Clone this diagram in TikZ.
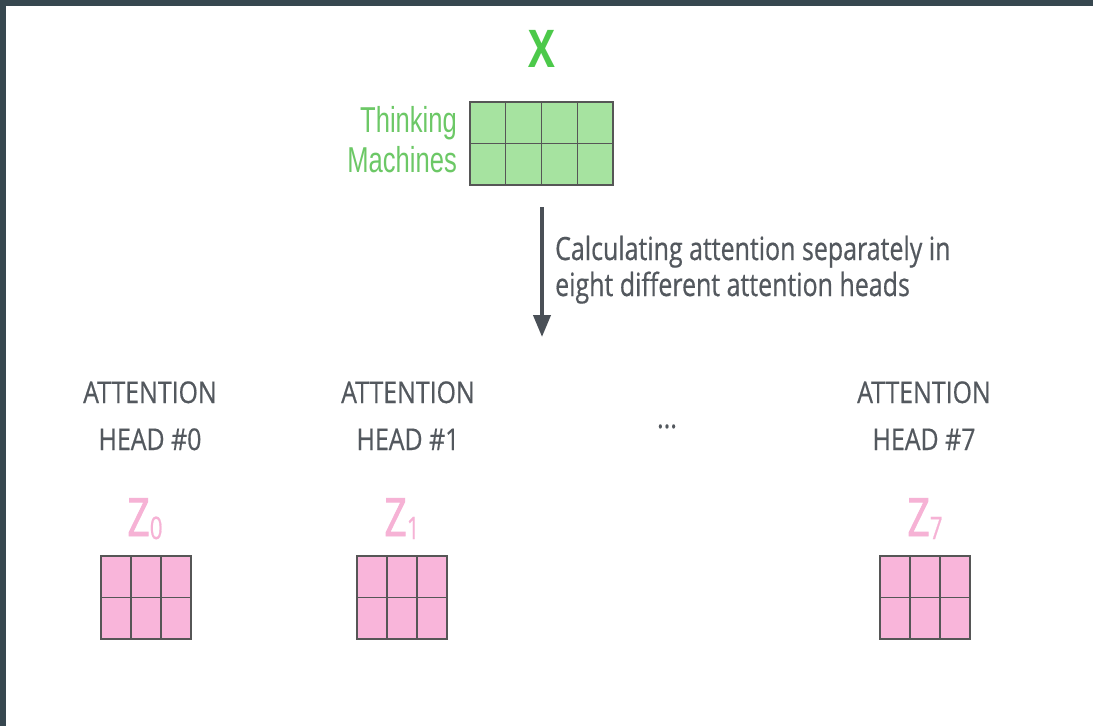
\documentclass[tikz,border=0pt]{standalone}
\usepackage{fontspec}
\usetikzlibrary{arrows.meta,calc}

% Narrow sans faces for the labels
\newfontfamily\headfont[FakeStretch=0.83,FakeBold=0.5]{Open Sans}
\newfontfamily\notefont[FakeStretch=0.78,FakeBold=0.5]{Open Sans}
\newfontfamily\boldletter[FakeStretch=0.77]{Open Sans}
\newfontfamily\zletter[FakeStretch=0.74,FakeBold=1.6]{Open Sans}
\newfontfamily\subfont[FakeStretch=0.72,FakeBold=0.6]{Open Sans}
\newfontfamily\wordfont[FakeStretch=0.71]{Liberation Sans}

\definecolor{framegray}{HTML}{37474F}
\definecolor{textgray}{HTML}{53585E}
\definecolor{arrowgray}{HTML}{4A5057}
\definecolor{gridgray}{HTML}{565656}
\definecolor{xgreen}{HTML}{4CC94A}
\definecolor{wordgreen}{HTML}{6CC866}
\definecolor{matgreen}{HTML}{A6E3A0}
\definecolor{zpink}{HTML}{F6B2D5}
\definecolor{matpink}{HTML}{F9B5DA}

\tikzset{
  matbox/.style={draw=gridgray, line width=1.3pt, inner sep=0pt, outer sep=0pt,
    anchor=north west, minimum height=83pt},
  grid line/.style={draw=gridgray, line width=1.3pt},
  % multi-line labels: the base anchor sits on the last line
  headlbl/.style={text=textgray, anchor=base, align=center, inner sep=0pt,
    font=\headfont\fontsize{30}{47}\selectfont},
  zlbl/.style={text=zpink, anchor=base, inner sep=0pt,
    font=\zletter\fontsize{53}{53}\selectfont},
  wordlbl/.style={text=wordgreen, anchor=base east, inner sep=0pt,
    font=\wordfont\fontsize{36}{36}\selectfont},
}

\newcommand\zsub[1]{\raisebox{-3pt}{\subfont\fontsize{31}{31}\selectfont #1}}

\begin{document}
\begin{tikzpicture}[x=1pt,y=-1pt]
  \useasboundingbox (0,0) rectangle (1093,726);
  \fill[white] (0,0) rectangle (1093,726);
  % dark frame along the top and left edges
  \fill[framegray] (0,0) rectangle (1093,6);
  \fill[framegray] (0,0) rectangle (6,726);

  % input matrix X
  \node[text=xgreen, anchor=base, inner sep=0pt,
    font=\boldletter\bfseries\fontsize{52}{52}\selectfont] (xlbl) at (542,67) {X};
  \node[matbox, fill=matgreen, minimum width=143pt] (xmat) at (470,102) {};
  \foreach \i in {1,2,3}
    \draw[grid line] ($(xmat.north west)+(\i*35.75,0)$) -- ($(xmat.south west)+(\i*35.75,0)$);
  \draw[grid line] (xmat.west) -- (xmat.east);
  \node[wordlbl] (w1) at (457,132) {Thinking};
  \node[wordlbl] (w2) at (457,172) {Machines};

  % arrow and its note
  \coordinate (arrtop) at (542,207);
  \coordinate (arrbot) at (542,337);
  \draw[arrowgray, line width=4pt, -{Triangle[length=22pt,width=17pt]}] (arrtop) -- (arrbot);
  \node[text=textgray, anchor=base west, align=left, inner sep=0pt,
    font=\notefont\fontsize{32}{36}\selectfont] (note) at (555,296)
    {Calculating attention separately in\\eight different attention heads};

  % attention heads
  \node[headlbl] (h0) at (150,450) {ATTENTION\\HEAD \#0};
  \node[headlbl] (h1) at (408,450) {ATTENTION\\HEAD \#1};
  \node[headlbl] (h7) at (924,450) {ATTENTION\\HEAD \#7};
  \node[text=textgray, anchor=base, inner sep=0pt,
    font=\headfont\fontsize{30}{35}\selectfont] (dots) at (667,428) {...};

  \node[zlbl] (z0) at (145,536) {Z\zsub{0}};
  \node[zlbl] (z1) at (402,536) {Z\zsub{1}};
  \node[zlbl] (z7) at (925,536) {Z\zsub{7}};

  \foreach \m/\x in {m0/101, m1/357, m7/880} {
    \node[matbox, fill=matpink, minimum width=90pt] (\m) at (\x,556) {};
    \foreach \i in {1,2}
      \draw[grid line] ($(\m.north west)+(\i*30,0)$) -- ($(\m.south west)+(\i*30,0)$);
    \draw[grid line] (\m.west) -- (\m.east);
  }
\end{tikzpicture}
\end{document}
